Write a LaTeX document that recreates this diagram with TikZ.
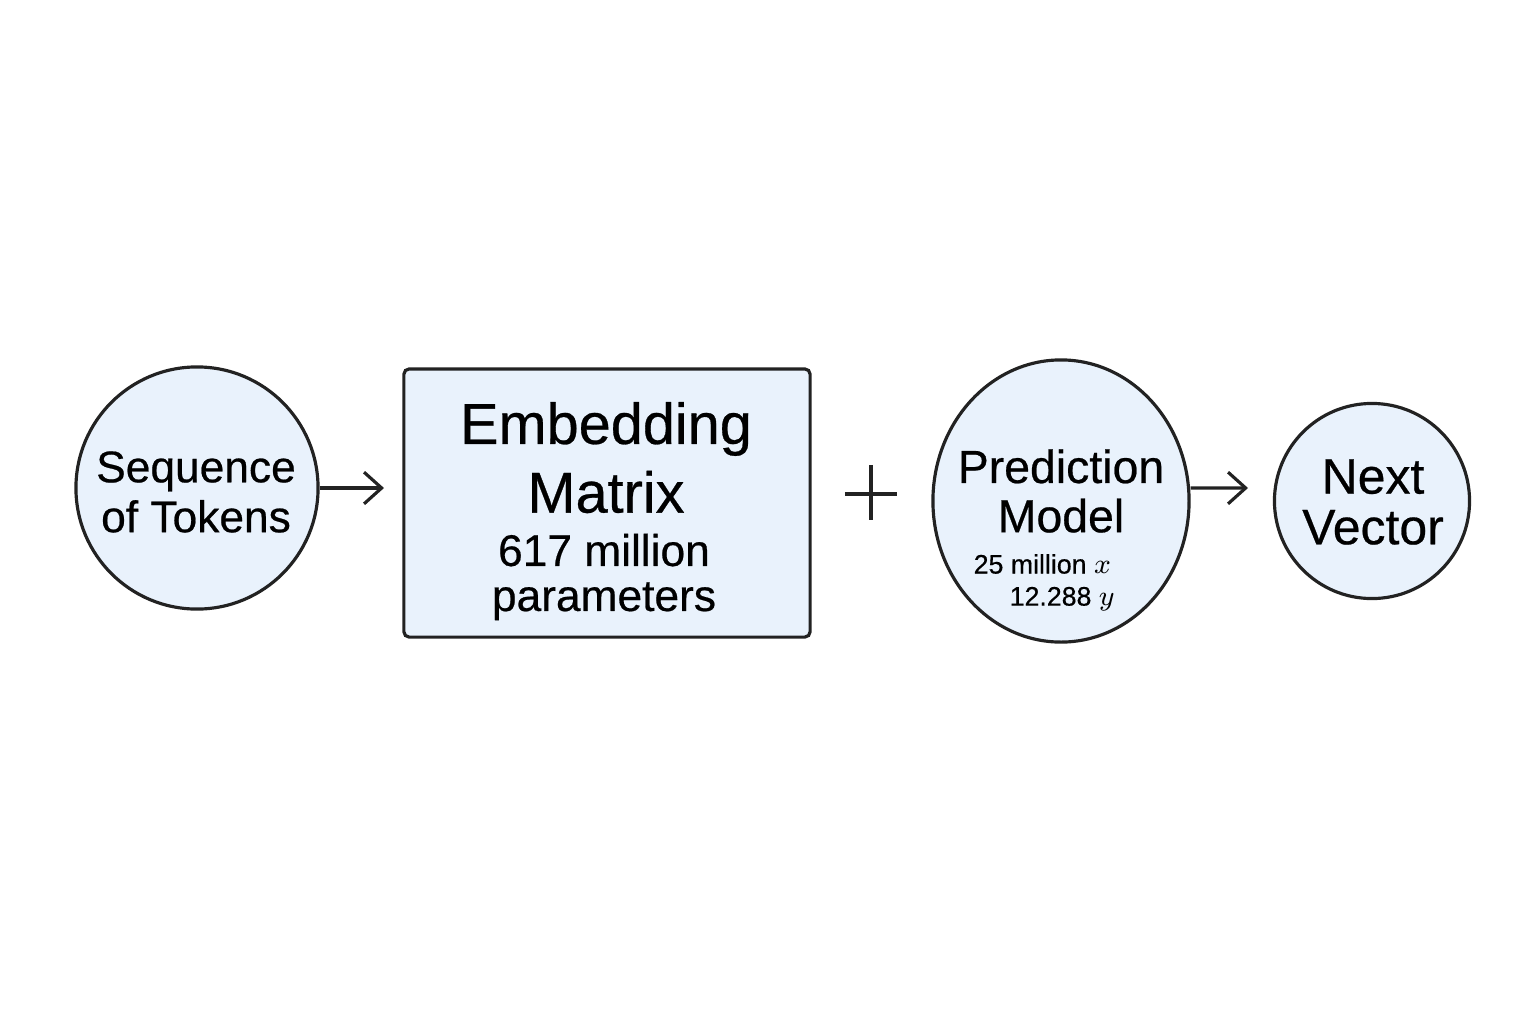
\documentclass[tikz,border=0pt]{standalone}
\usepackage{fontspec}
\setmainfont{Liberation Sans}[FakeBold=0.5]
\usetikzlibrary{arrows.meta,shapes.geometric}
\definecolor{boxfill}{HTML}{E9F2FC}
\definecolor{ink}{HTML}{222222}
\begin{document}
\begin{tikzpicture}[x=0.01cm,y=-0.01cm,
  shapeline/.style={draw=ink,line width=0.9pt,fill=boxfill},
  conn/.style={draw=ink,line width=0.9pt,-{Straight Barb[length=5pt,width=9pt,line width=0.9pt]}},
  lbl/.style={text=black,align=center,inner sep=0pt},
]
\useasboundingbox (0,0) rectangle (1536,1024);
% shapes
\node[shapeline,circle,minimum size=2.42cm,inner sep=0pt] (seq) at (197,488) {};
\node[shapeline,rectangle,rounded corners=1.5pt,minimum width=4.06cm,minimum height=2.68cm,inner sep=0pt] (emb) at (607,503) {};
\node[shapeline,ellipse,minimum width=2.56cm,minimum height=2.82cm,inner sep=0pt] (pred) at (1061,501) {};
\node[shapeline,circle,minimum size=1.95cm,inner sep=0pt] (next) at (1372,501) {};
% texts
\node[lbl,font=\fontsize{12.6pt}{14.2pt}\selectfont] (seqt) at (196,492) {Sequence\\of Tokens};
\node[lbl,font=\fontsize{16.4pt}{17pt}\selectfont] (embt1) at (606,429) {Embedding};
\node[lbl,font=\fontsize{16.4pt}{17pt}\selectfont] (embt2) at (606,492) {Matrix};
\node[lbl,font=\fontsize{12.6pt}{12.8pt}\selectfont] (embt3) at (604,577) {617 million\\parameters};
\node[lbl,font=\fontsize{13.2pt}{14pt}\selectfont] (predt) at (1061,491) {Prediction\\Model};
\node[lbl,font=\fontsize{7.6pt}{9pt}\selectfont,anchor=west] (predx) at (973,564) {25 million $x$};
\node[lbl,font=\fontsize{7.6pt}{9pt}\selectfont,anchor=west] (predy) at (1009,599) {12.288 $y$};
\node[lbl,font=\fontsize{14.2pt}{14.4pt}\selectfont] (nextt) at (1373,502) {Next\\Vector};
% plus sign
\coordinate (plusc) at (871,494);
\draw[draw=ink,line width=1.1pt] ([xshift=-0.26cm]plusc) -- ([xshift=0.26cm]plusc);
\draw[draw=ink,line width=1.1pt] ([yshift=0.29cm]plusc) -- ([yshift=-0.26cm]plusc);
% connectors
\coordinate (a1end) at (384,488);
\coordinate (a2end) at (1248,488);
\draw[conn] (seq.east |- a1end) -- (a1end);
\draw[conn] ([yshift=0.13cm]pred.east) -- (a2end);
\end{tikzpicture}
\end{document}
